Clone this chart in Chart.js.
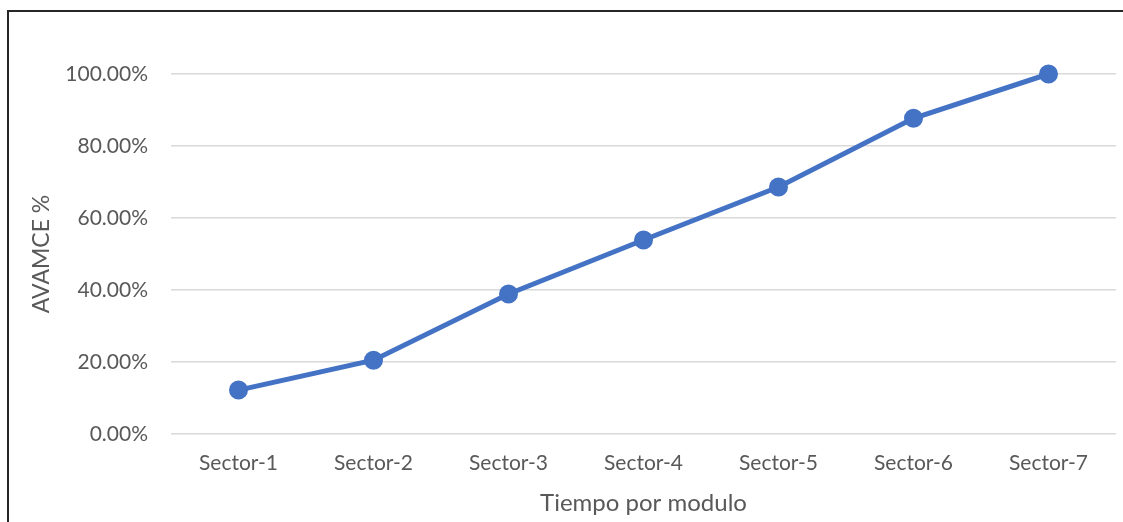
<!DOCTYPE html>
<html>
<head>
<meta charset="utf-8">
<script src="https://cdn.jsdelivr.net/npm/chart.js@4.4.1/dist/chart.umd.min.js"></script>
<style>
  body { margin: 0; background: #fff; }
  #wrap {
    position: absolute; left: 7px; top: 10px;
    width: 1116px; height: 512px;
    border-top: 2px solid #262626; border-left: 2px solid #262626;
    box-sizing: border-box;
  }
  #lineChart { display: block; }
</style>
</head>
<body>
<div id="wrap"><canvas id="lineChart" width="1114" height="510"></canvas></div>
<script>
const sectors = ["Sector-1", "Sector-2", "Sector-3", "Sector-4", "Sector-5", "Sector-6", "Sector-7"];
const avance = [12.2, 20.5, 38.9, 53.9, 68.6, 87.7, 100];
const yTicks = [0, 20, 40, 60, 80, 100];

document.addEventListener("DOMContentLoaded", function () {
  const ctx = document.getElementById("lineChart").getContext("2d");
  const textColor = "#595959";
  new Chart(ctx, {
    type: "line",
    data: {
      labels: sectors,
      datasets: [
        {
          label: "AVAMCE %",
          data: avance,
          borderColor: "#4472C4",
          backgroundColor: "#4472C4",
          borderWidth: 5,
          pointRadius: 7,
          pointHoverRadius: 7,
          tension: 0,
          clip: false,
        },
      ],
    },
    options: {
      responsive: false,
      animation: false,
      layout: { autoPadding: false, padding: { top: 62, right: 7, bottom: 4, left: 19 } },
      plugins: { legend: { display: false }, tooltip: { enabled: false } },
      scales: {
        x: {
          offset: true,
          grid: { display: false },
          border: { display: false },
          ticks: { color: textColor, font: { family: "Lato", size: 21 }, padding: 9 },
          title: { display: true, text: "Tiempo por modulo", color: textColor, font: { family: "Lato", size: 24 }, padding: { top: 4, bottom: 0 } },
        },
        y: {
          min: 0,
          max: 100,
          afterBuildTicks: (axis) => { axis.ticks = yTicks.map((v) => ({ value: v })); },
          afterFit: (axis) => { axis.width = 143; },
          grid: { color: "#d9d9d9", lineWidth: 1.5, drawTicks: false },
          border: { display: false },
          ticks: {
            color: textColor,
            font: { family: "Lato", size: 21 },
            padding: 23,
            callback: (v) => v.toFixed(2) + "%",
          },
          title: { display: true, text: "AVAMCE %", color: textColor, font: { family: "Lato", size: 23 }, padding: { top: 0, bottom: 10 } },
        },
      },
    },
  });
});
</script>
</body>
</html>
